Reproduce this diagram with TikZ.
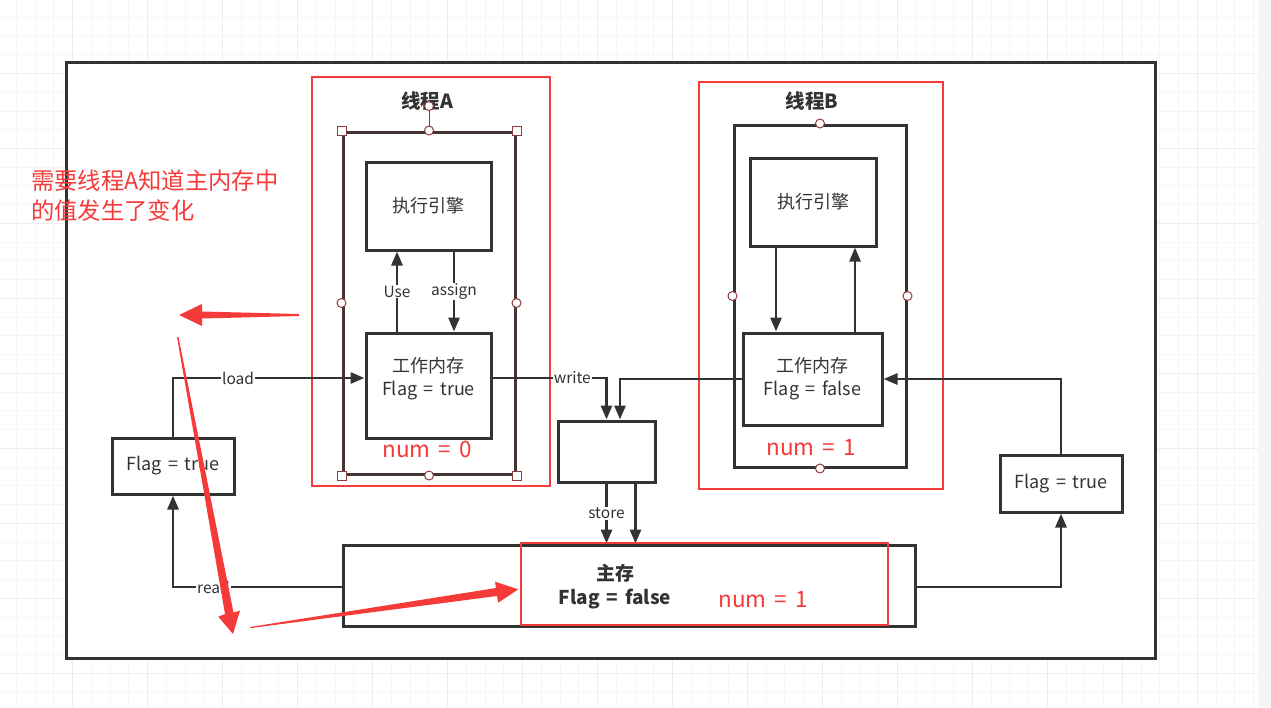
\documentclass[tikz,border=0pt]{standalone}
\usepackage{fontspec}
\setmainfont[WordSpace=1.6]{Noto Sans CJK SC}
\usetikzlibrary{arrows.meta,positioning}
\definecolor{linec}{RGB}{51,51,51}
\definecolor{redc}{RGB}{245,58,58}
\definecolor{selc}{RGB}{140,60,60}
\definecolor{framec}{RGB}{72,52,52}
\tikzset{
  box/.style={draw=linec, line width=3pt, fill=white, align=center, text=linec,
    font=\fontsize{18}{23}\selectfont, inner sep=0pt},
  arr/.style={draw=linec, line width=2.8pt, -{Triangle[length=14pt,width=11pt]}},
  lbl/.style={fill=white, inner sep=1pt, text=linec, font=\fontsize{15.5}{18}\selectfont},
  redbox/.style={draw=redc, line width=2.8pt},
  numtxt/.style={text=redc, inner sep=0pt, font=\fontsize{22.5}{26}\selectfont},
  title/.style={text=linec, font=\bfseries\fontsize{19.5}{22}\selectfont},
  hcirc/.style={circle, draw=selc, fill=white, line width=1pt, inner sep=0pt, minimum size=9pt},
  hsq/.style={rectangle, draw=selc, fill=white, line width=1pt, inner sep=0pt, minimum size=9pt},
  gridminor/.style={draw=gray!7, line width=1pt},
  gridmajor/.style={draw=gray!14, line width=1pt},
}
\begin{document}
\begin{tikzpicture}[x=1pt,y=-1pt]
    \useasboundingbox (0,0) rectangle (1271,707);
    \fill[white] (0,0) rectangle (1271,707);
    \foreach \i in {0,...,66} \draw[gridminor] ({16.5+18.743*\i},0) -- ({16.5+18.743*\i},707);
    \foreach \j in {0,...,37} \draw[gridminor] (0,{17.3+18.743*\j}) -- (1271,{17.3+18.743*\j});
    \foreach \i in {0,...,15} \draw[gridmajor] ({72.7+75*\i},0) -- ({72.7+75*\i},707);
    \foreach \j in {0,...,8} \draw[gridmajor] (0,{73.3+75*\j}) -- (1271,{73.3+75*\j});
    \fill[gray!8] (1258,0) rectangle (1271,707);

    \draw[linec, line width=3pt, fill=white] (66,62) rectangle (1155,658);

    \draw[redbox] (312,77) rectangle (550,486);
    \draw[redbox] (699,82) rectangle (943,489);

    \node[title] (LA) at (427,101) {线程A};
    \node[title] (LB) at (812,101) {线程B};

    \node[draw=framec, line width=3pt, minimum width=172, minimum height=342, inner sep=0pt] (TA) at (429,303) {};
    \node[draw=linec, line width=3pt, minimum width=172, minimum height=342, inner sep=0pt] (TB) at (820,296) {};

    \node[box, minimum width=125, minimum height=88] (EA) at (428.5,206) {执行引擎};
    \node[box, minimum width=125, minimum height=105, text depth=18pt] (WA) at (428.5,385.5) {工作内存\\Flag = true};
    \node[box, minimum width=126, minimum height=88] (EB) at (813,202) {执行引擎};
    \node[box, minimum width=139, minimum height=92] (WB) at (812.5,379) {工作内存\\Flag = false};

    \node[box, minimum width=97, minimum height=61] (S) at (606.5,451.5) {};
    \node[box, minimum width=572, minimum height=81] (M) at (629,585.5) {};
    \node[box, minimum width=122, minimum height=56] (FL) at (173,466) {Flag = true};
    \node[box, minimum width=122, minimum height=57] (FR) at (1061,483.5) {Flag = true};

    \coordinate (WAl) at ([yshift=7.5pt]WA.west);
    \coordinate (WAr) at ([yshift=7.5pt]WA.east);
    \coordinate (S') at ([xshift=13.5pt]S.north);
    \coordinate (S'') at ([xshift=29pt]S.south);
    \coordinate (Ml) at ([yshift=-1.5pt]M.west);
    \coordinate (Mr) at ([yshift=-1.5pt]M.east);

    \draw[arr] ([xshift=-31.5pt]WA.north) -- node[lbl] {Use} ([xshift=-31.5pt]EA.south);
    \draw[arr] ([xshift=25.5pt]EA.south) -- node[lbl] {assign} ([xshift=25.5pt]WA.north);
    \draw[arr] ([xshift=-37pt]EB.south) -- ([xshift=-37pt]EB.south |- WB.north);
    \draw[arr] ([xshift=42.5pt]WB.north) -- ([xshift=42.5pt]WB.north |- EB.south);

    \draw[arr] (FL.north) |- node[lbl, pos=0.67] {load} (WAl);
    \draw[arr] (WAr) -| node[lbl, pos=0.35] {write} (S.north);
    \draw[arr] (WB.west) -| (S');
    \draw[arr] (S.south) -- node[lbl] {store} (S.south |- M.north);
    \draw[arr] (S'') -- (S'' |- M.north);
    \draw[arr] (Ml) -| node[lbl, pos=0.38] {read} (FL.south);
    \draw[arr] (FR.north) |- (WB.east);
    \draw[arr] (Mr) -| (FR.south);

    \node[text=linec, align=center, font=\bfseries\fontsize{19}{24}\selectfont] (MT) at (615,587) {主存\\Flag = false};
    \draw[redbox] (521,543) rectangle (888,625);

    \node[numtxt] (NA) at (427,449) {num = 0};
    \node[numtxt] (NB) at (811,448) {num = 1};
    \node[numtxt] (NM) at (763,600) {num = 1};

    \node[hcirc] (RA) at (429,106) {};
    \draw[selc, line width=1pt] (RA.south) -- (TA.north);
    \foreach \p in {north,south,east,west} \node[hcirc] at (TA.\p) {};
    \foreach \p in {north east,north west,south east,south west} \node[hsq] at (TA.\p) {};
    \foreach \p in {north,south,east,west} \node[hcirc] at (TB.\p) {};

    \node[anchor=north west, inner sep=0pt, text=redc, align=left, font=\fontsize{23.3}{30}\selectfont] (note) at (31,170) {需要线程A知道主内存中\\的值发生了变化};

    \fill[redc] (179,315) -- (202,304) -- (202,311.5) -- (299,314) -- (299,316) -- (202,318.5) -- (202,326) -- cycle;
    \fill[redc] (177,337) -- (178.5,337) -- (233.5,612.5) -- (240,610.7) -- (233,634) -- (218.3,616.7) -- (225,614) -- cycle;
    \fill[redc] (250,627) -- (496,588) -- (495,581.7) -- (518.3,589.3) -- (498.3,602.7) -- (497,596) -- (251,628) -- cycle;
\end{tikzpicture}
\end{document}
